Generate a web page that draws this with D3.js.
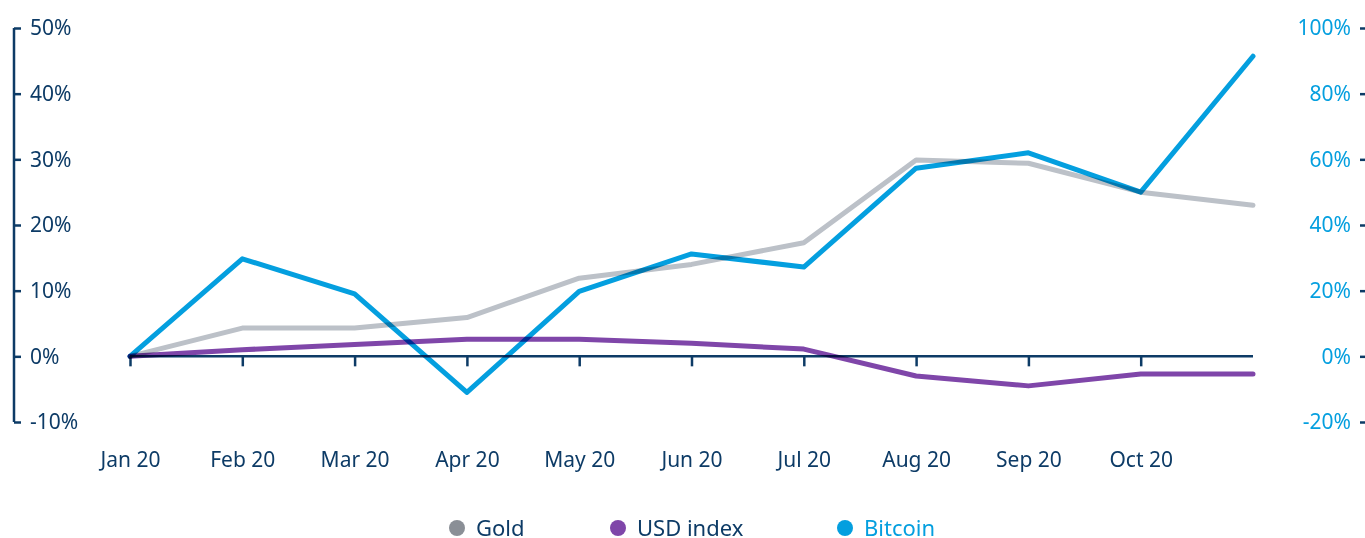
<!DOCTYPE html>
<html>
<head>
<meta charset="utf-8">
<script src="https://cdn.jsdelivr.net/npm/d3@7"></script>
<style>
  html, body { margin: 0; padding: 0; background: #fff; }
  svg { display: block; font-family: "Noto Sans", "Open Sans", sans-serif; }
</style>
</head>
<body>
<svg id="chart" width="1365" height="538"></svg>
<script>
const months = ["Jan 20","Feb 20","Mar 20","Apr 20","May 20","Jun 20","Jul 20","Aug 20","Sep 20","Oct 20","Nov 20"];
const monthLabels = ["Jan 20","Feb 20","Mar 20","Apr 20","May 20","Jun 20","Jul 20","Aug 20","Sep 20","Oct 20",""];
const gold    = [0, 4.3, 4.3, 5.9, 11.9, 14.0, 17.3, 29.9, 29.4, 25.0, 23.0];
const usd     = [0, 1.0, 1.8, 2.6, 2.6, 2.0, 1.1, -3.0, -4.5, -2.7, -2.7];
const bitcoin = [0, 29.7, 19.0, -11.0, 19.8, 31.2, 27.2, 57.3, 62.0, 50.0, 91.4];
const leftTicks  = [-10, 0, 10, 20, 30, 40, 50];
const rightTicks = [-20, 0, 20, 40, 60, 80, 100];

const C = { navy: "#0d3b66", gold: "#bcc1c8", goldDot: "#8a8f96", usd: "#7f46a9", btc: "#049fdf" };

const svg = d3.select("#chart");
const x = d3.scalePoint().domain(months).range([130, 1253]);
const yL = d3.scaleLinear().domain([-10, 50]).range([422, 28]);
const yR = d3.scaleLinear().domain([-20, 100]).range([422, 28]);

// Left axis
const gL = svg.append("g").attr("transform", "translate(14,0)")
  .call(d3.axisRight(yL).tickValues(leftTicks).tickSize(7).tickPadding(9).tickFormat(d => d + "%"))
  .attr("font-family", null).attr("font-size", null);
gL.select(".domain").attr("stroke", C.navy).attr("stroke-width", 2.5).attr("d", `M0,${yL(-10)}V${yL(50)}`);
gL.selectAll(".tick line").attr("stroke", C.navy).attr("stroke-width", 2.5);
gL.selectAll(".tick text").attr("fill", C.navy).style("font-size", "21px");

// Right axis
const gR = svg.append("g").attr("transform", "translate(1365,0)")
  .call(d3.axisLeft(yR).tickValues(rightTicks).tickSize(5).tickPadding(9).tickFormat(d => d + "%"))
  .attr("font-family", null).attr("font-size", null);
gR.select(".domain").remove();
gR.selectAll(".tick line").attr("stroke", C.navy).attr("stroke-width", 2.5);
gR.selectAll(".tick text").attr("fill", C.btc).style("font-size", "21px");

// X axis at zero
const gX = svg.append("g").attr("transform", `translate(0,${yL(0)})`)
  .call(d3.axisBottom(x).tickValues(months.slice(0, 10)).tickSize(10).tickPadding(85).tickFormat((d, i) => monthLabels[i]))
  .attr("font-family", null).attr("font-size", null);
gX.select(".domain").attr("stroke", C.navy).attr("stroke-width", 2.5).attr("d", `M${x(months[0])},0H${x(months[10])}`);
gX.selectAll(".tick line").attr("stroke", C.navy).attr("stroke-width", 2.5);
gX.selectAll(".tick text").attr("fill", C.navy).style("font-size", "21px").attr("dy", "0").attr("y", 111);

// Lines
const lineL = d3.line().x((d, i) => x(months[i])).y(d => yL(d));
const lineR = d3.line().x((d, i) => x(months[i])).y(d => yR(d));
const series = [
  { data: gold, gen: lineL, color: C.gold },
  { data: usd, gen: lineL, color: C.usd },
  { data: bitcoin, gen: lineR, color: C.btc }
];
svg.append("g").selectAll("path").data(series).join("path")
  .attr("d", s => s.gen(s.data))
  .attr("fill", "none")
  .attr("stroke", s => s.color)
  .attr("stroke-width", 5)
  .attr("stroke-linejoin", "round")
  .attr("stroke-linecap", "round")
  .style("mix-blend-mode", "multiply");

// Legend
const legend = [
  { name: "Gold", dot: C.goldDot, text: C.navy, x: 457 },
  { name: "USD index", dot: C.usd, text: C.navy, x: 618 },
  { name: "Bitcoin", dot: C.btc, text: C.btc, x: 845 }
];
const lg = svg.append("g").selectAll("g").data(legend).join("g")
  .attr("transform", d => `translate(${d.x},528)`);
lg.append("circle").attr("r", 8).attr("fill", d => d.dot);
lg.append("text").attr("x", 19).attr("dy", "0.35em").attr("fill", d => d.text)
  .style("font-size", "22px").text(d => d.name);
</script>
</body>
</html>
